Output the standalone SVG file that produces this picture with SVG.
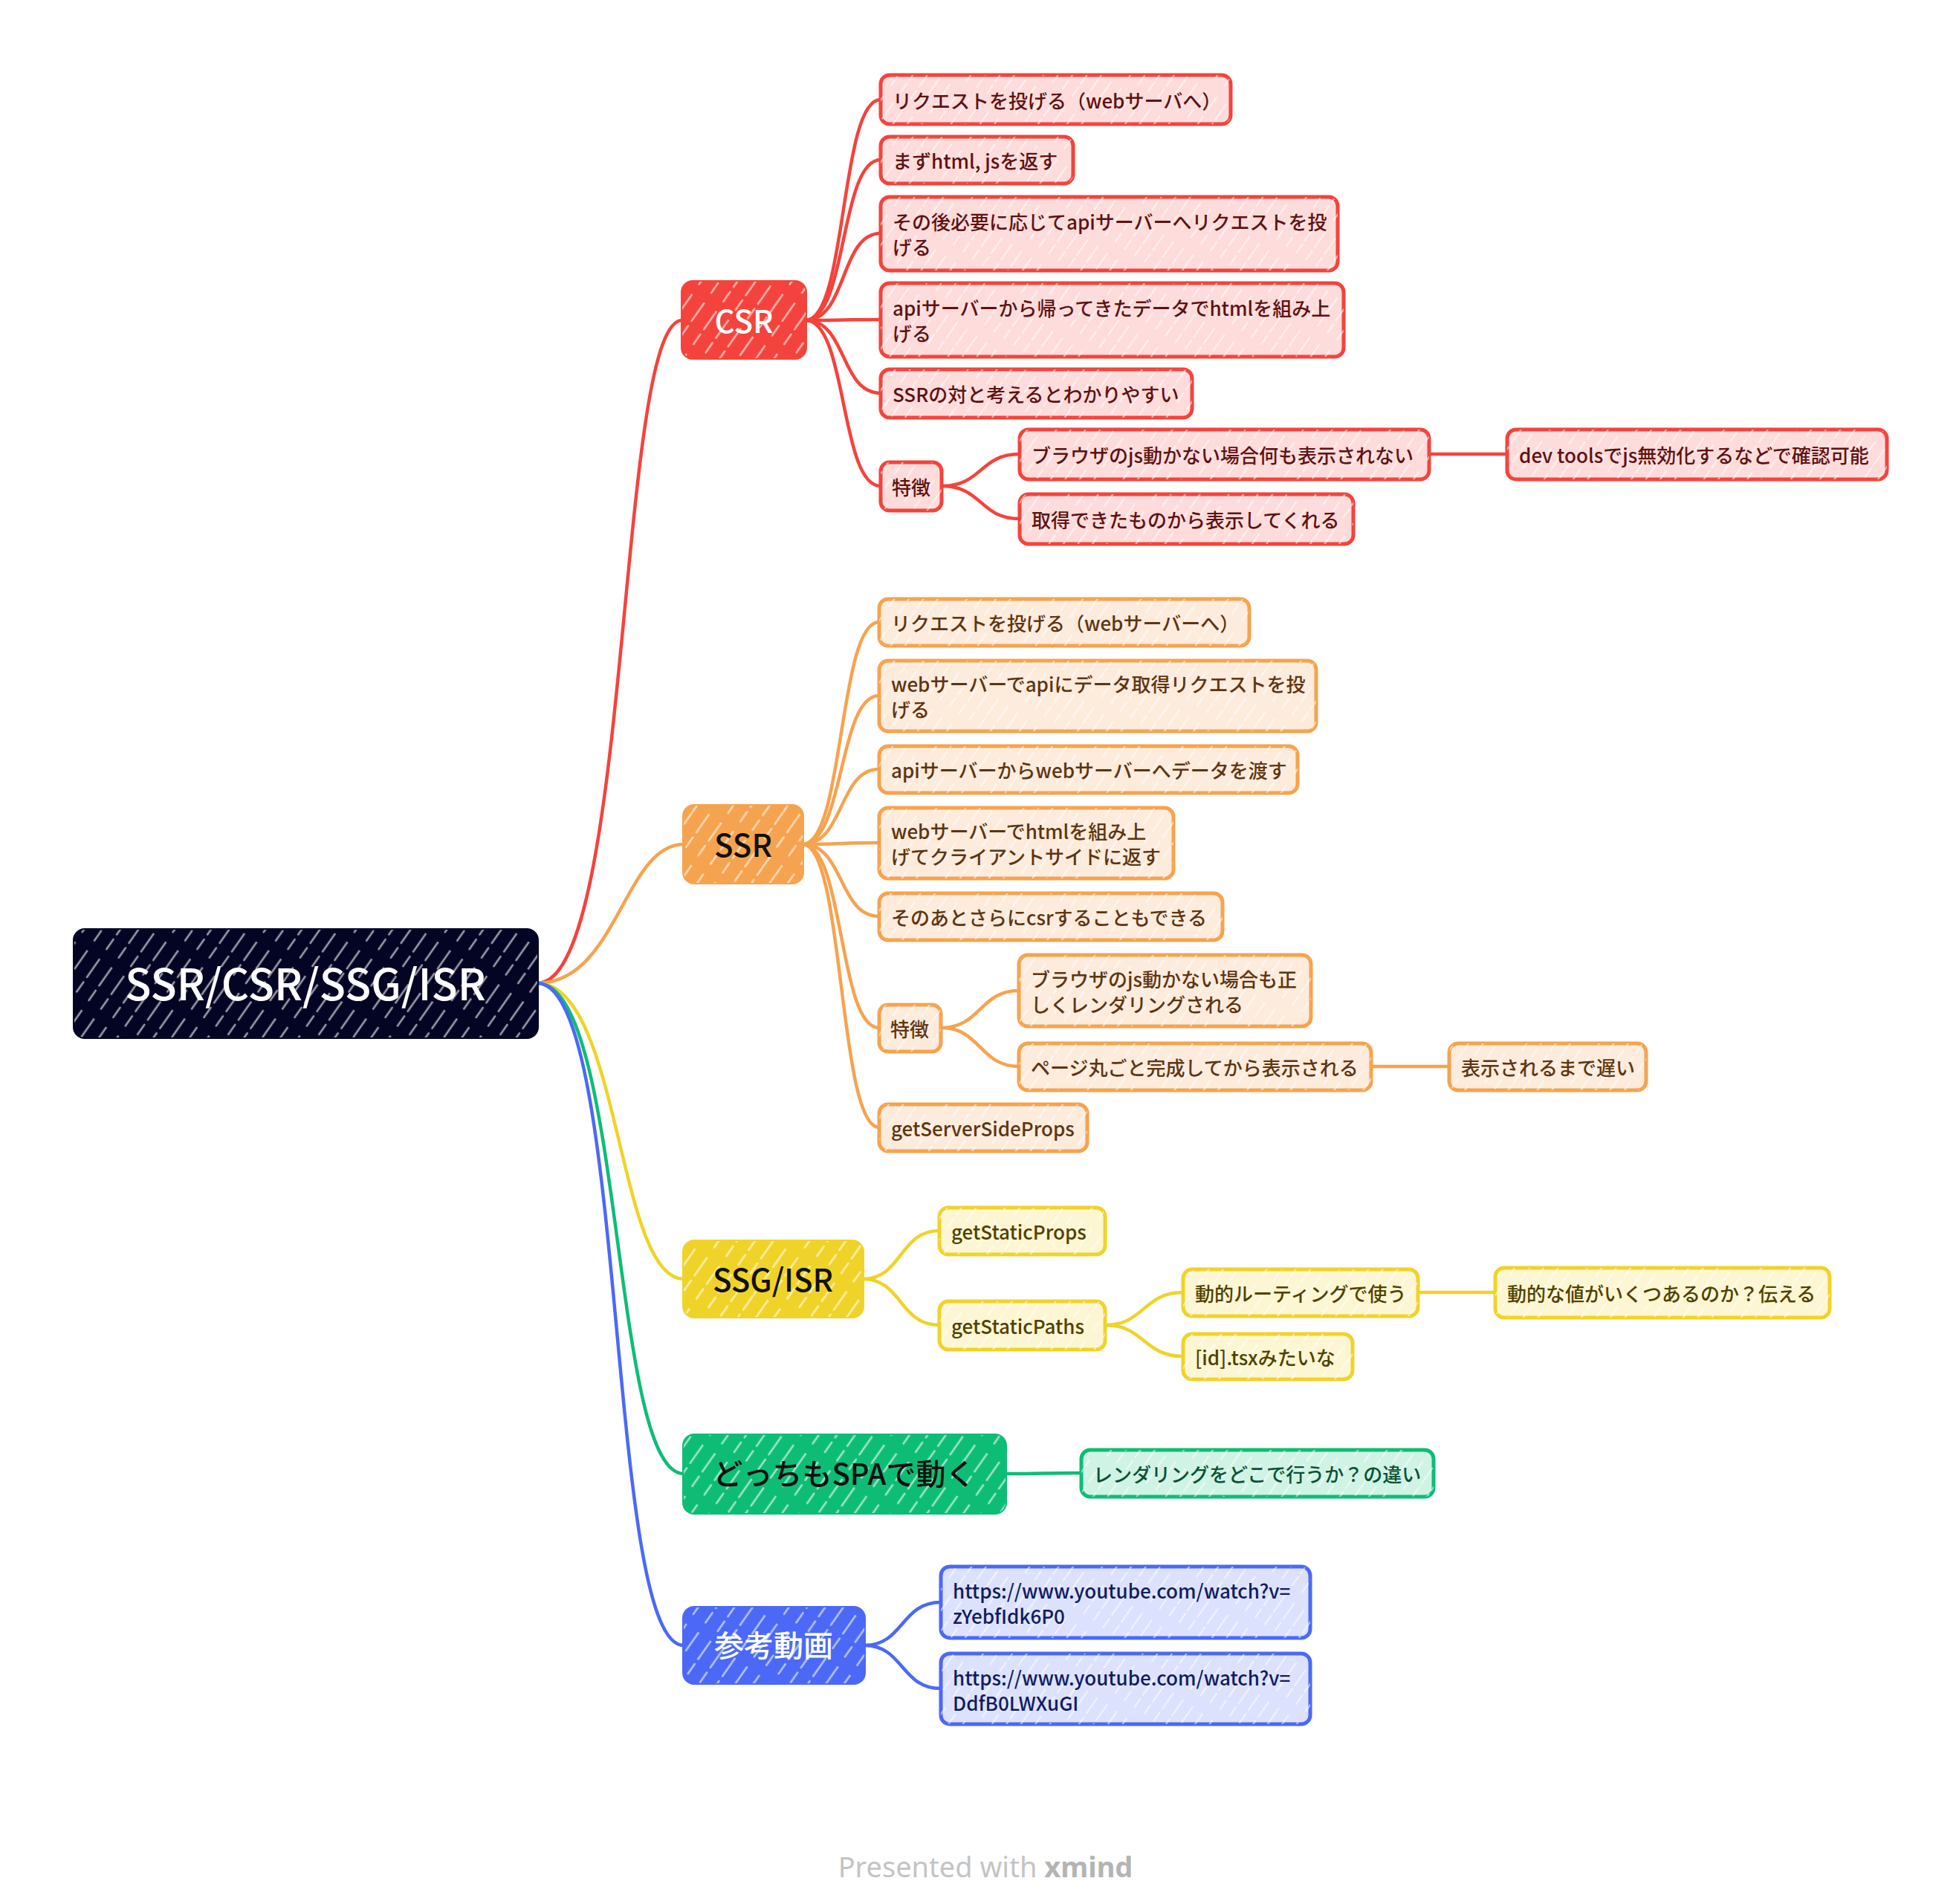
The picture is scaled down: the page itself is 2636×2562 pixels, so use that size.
<svg xmlns="http://www.w3.org/2000/svg" width="2636" height="2562" viewBox="0 0 2636 2562">
<defs>
<pattern id="hatch" width="16" height="64" patternUnits="userSpaceOnUse" patternTransform="rotate(35)">
<line x1="8" y1="0" x2="8" y2="64" stroke="#ffffff" stroke-width="2.2" stroke-dasharray="26 6 14 18" stroke-linecap="round"/>
</pattern>
<pattern id="hatchM" width="20" height="70" patternUnits="userSpaceOnUse" patternTransform="rotate(35)">
<line x1="10" y1="0" x2="10" y2="70" stroke="#ffffff" stroke-width="2.6" stroke-dasharray="30 8 16 16" stroke-linecap="round"/>
</pattern>
<style>
.t{font-family:"Noto Sans CJK JP","Noto Sans",sans-serif;font-size:26px;font-weight:500;dominant-baseline:central}
.m{font-family:"Noto Sans CJK JP","Noto Sans",sans-serif;font-size:42px;font-weight:500;text-anchor:middle;dominant-baseline:central}
.h{fill:url(#hatch);opacity:.55}
.hm{fill:url(#hatchM);opacity:.6}
.box{stroke-width:5}
.mainbox{stroke-width:4}
.red .box{fill:#fedcdb;stroke:#f4433c}.red .t{fill:#5e1212}
.orange .box{fill:#fdebdc;stroke:#f6a34f}.orange .t{fill:#5e3510}
.yellow .box{fill:#fdf6d2;stroke:#f0d329}.yellow .t{fill:#4f4200}
.green .box{fill:#cff3e4;stroke:#0dbd76}.green .t{fill:#0b5035}
.blue .box{fill:#dce2fd;stroke:#4b69f6}.blue .t{fill:#101c63}
.conn path{fill:none;stroke-width:4.5;stroke-linecap:round}
.cr{stroke:#f4433c}.co{stroke:#f6a34f}.cy{stroke:#f0d329}.cg{stroke:#0dbd76}.cb{stroke:#4b69f6}
.foot{font-family:"Noto Sans","Liberation Sans",sans-serif;font-size:38px;fill:#c4c4c4}
</style>
</defs>
<rect width="2636" height="2562" fill="#ffffff"/>

<g id="connectors" class="conn">
<path class="cr" d="M723,1323 C850,1323 830,431 918,431"/>
<path class="co" d="M723,1323 C830,1323 840,1136 920,1136"/>
<path class="cy" d="M723,1323 C835,1323 830,1721 920,1721"/>
<path class="cg" d="M723,1323 C840,1323 822,1983 920,1983"/>
<path class="cb" d="M723,1323 C845,1323 815,2214 920,2214"/>

<path class="cr" d="M1084,431 C1140,431 1130,134 1185,134"/>
<path class="cr" d="M1084,431 C1140,431 1130,215 1185,215"/>
<path class="cr" d="M1084,431 C1140,431 1130,314 1185,314"/>
<path class="cr" d="M1084,431 C1140,431 1130,430 1185,430"/>
<path class="cr" d="M1084,431 C1140,431 1130,529 1185,529"/>
<path class="cr" d="M1084,431 C1140,431 1130,654 1185,654"/>
<path class="cr" d="M1267,654 C1322,654 1318,611 1372,611"/>
<path class="cr" d="M1267,654 C1322,654 1318,698 1372,698"/>
<path class="cr" d="M1923,611 C1975,611 1975,611 2028,611"/>

<path class="co" d="M1080,1136 C1136,1136 1128,837 1183,837"/>
<path class="co" d="M1080,1136 C1136,1136 1128,936 1183,936"/>
<path class="co" d="M1080,1136 C1136,1136 1128,1035 1183,1035"/>
<path class="co" d="M1080,1136 C1136,1136 1128,1134 1183,1134"/>
<path class="co" d="M1080,1136 C1136,1136 1128,1233 1183,1233"/>
<path class="co" d="M1080,1136 C1136,1136 1128,1383 1183,1383"/>
<path class="co" d="M1080,1136 C1136,1136 1128,1517 1183,1517"/>
<path class="co" d="M1266,1383 C1320,1383 1318,1333 1371,1333"/>
<path class="co" d="M1266,1383 C1320,1383 1318,1435 1371,1435"/>
<path class="co" d="M1845,1435 C1898,1435 1898,1435 1950,1435"/>

<path class="cy" d="M1161,1721 C1214,1721 1210,1656 1264,1656"/>
<path class="cy" d="M1161,1721 C1214,1721 1210,1783 1264,1783"/>
<path class="cy" d="M1487,1783 C1540,1783 1538,1739 1592,1739"/>
<path class="cy" d="M1487,1783 C1540,1783 1538,1825 1592,1825"/>
<path class="cy" d="M1908,1739 C1960,1739 1960,1739 2012,1739"/>

<path class="cg" d="M1353,1983 C1404,1983 1404,1982 1455,1982"/>

<path class="cb" d="M1163,2214 C1216,2214 1212,2156 1266,2156"/>
<path class="cb" d="M1163,2214 C1216,2214 1212,2272 1266,2272"/>
</g>

<g id="root">
<rect x="100" y="1251" width="623" height="145" rx="14" fill="#040525" stroke="#040525" class="mainbox"/>
<rect x="100" y="1251" width="623" height="145" rx="14" class="hm"/>
<text x="411" y="1321" class="m" style="font-size:58px" fill="#ffffff">SSR/CSR/SSG/ISR</text>
</g>

<g id="csr">
<rect x="918" y="379" width="166" height="103" rx="14" fill="#f4433c" stroke="#f4433c" class="mainbox"/>
<rect x="918" y="379" width="166" height="103" rx="14" class="hm"/>
<text x="1001" y="429" class="m" fill="#ffffff">CSR</text>
</g>
<g id="csr-1" class="red"><rect class="box" x="1185" y="101" width="471" height="66" rx="12"/><rect class="h" x="1185" y="101" width="471" height="66" rx="12"/><text class="t" x="1201" y="134">リクエストを投げる（webサーバへ）</text></g>
<g id="csr-2" class="red"><rect class="box" x="1185" y="184" width="259" height="63" rx="12"/><rect class="h" x="1185" y="184" width="259" height="63" rx="12"/><text class="t" x="1201" y="215">まずhtml, jsを返す</text></g>
<g id="csr-3" class="red"><rect class="box" x="1185" y="265" width="615" height="99" rx="12"/><rect class="h" x="1185" y="265" width="615" height="99" rx="12"/><text class="t" x="1201" y="297">その後必要に応じてapiサーバーへリクエストを投</text><text class="t" x="1201" y="331">げる</text></g>
<g id="csr-4" class="red"><rect class="box" x="1185" y="381" width="623" height="99" rx="12"/><rect class="h" x="1185" y="381" width="623" height="99" rx="12"/><text class="t" x="1201" y="413">apiサーバーから帰ってきたデータでhtmlを組み上</text><text class="t" x="1201" y="447">げる</text></g>
<g id="csr-5" class="red"><rect class="box" x="1185" y="497" width="419" height="65" rx="12"/><rect class="h" x="1185" y="497" width="419" height="65" rx="12"/><text class="t" x="1201" y="529">SSRの対と考えるとわかりやすい</text></g>
<g id="csr-6" class="red"><rect class="box" x="1185" y="622" width="82" height="65" rx="12"/><rect class="h" x="1185" y="622" width="82" height="65" rx="12"/><text class="t" x="1200" y="654">特徴</text></g>
<g id="csr-6-1" class="red"><rect class="box" x="1372" y="578" width="551" height="67" rx="12"/><rect class="h" x="1372" y="578" width="551" height="67" rx="12"/><text class="t" x="1388" y="611">ブラウザのjs動かない場合何も表示されない</text></g>
<g id="csr-6-1-1" class="red"><rect class="box" x="2028" y="578" width="511" height="67" rx="12"/><rect class="h" x="2028" y="578" width="511" height="67" rx="12"/><text class="t" x="2044" y="611">dev toolsでjs無効化するなどで確認可能</text></g>
<g id="csr-6-2" class="red"><rect class="box" x="1372" y="665" width="449" height="67" rx="12"/><rect class="h" x="1372" y="665" width="449" height="67" rx="12"/><text class="t" x="1388" y="698">取得できたものから表示してくれる</text></g>

<g id="ssr">
<rect x="920" y="1084" width="160" height="104" rx="14" fill="#f6a34f" stroke="#f6a34f" class="mainbox"/>
<rect x="920" y="1084" width="160" height="104" rx="14" class="hm"/>
<text x="1000" y="1134" class="m" fill="#111111">SSR</text>
</g>
<g id="ssr-1" class="orange"><rect class="box" x="1183" y="806" width="498" height="63" rx="12"/><rect class="h" x="1183" y="806" width="498" height="63" rx="12"/><text class="t" x="1199" y="837">リクエストを投げる（webサーバーへ）</text></g>
<g id="ssr-2" class="orange"><rect class="box" x="1183" y="889" width="588" height="95" rx="12"/><rect class="h" x="1183" y="889" width="588" height="95" rx="12"/><text class="t" x="1199" y="919">webサーバーでapiにデータ取得リクエストを投</text><text class="t" x="1199" y="953">げる</text></g>
<g id="ssr-3" class="orange"><rect class="box" x="1183" y="1004" width="563" height="63" rx="12"/><rect class="h" x="1183" y="1004" width="563" height="63" rx="12"/><text class="t" x="1199" y="1035">apiサーバーからwebサーバーへデータを渡す</text></g>
<g id="ssr-4" class="orange"><rect class="box" x="1183" y="1087" width="396" height="95" rx="12"/><rect class="h" x="1183" y="1087" width="396" height="95" rx="12"/><text class="t" x="1199" y="1117">webサーバーでhtmlを組み上</text><text class="t" x="1199" y="1151">げてクライアントサイドに返す</text></g>
<g id="ssr-5" class="orange"><rect class="box" x="1183" y="1202" width="462" height="63" rx="12"/><rect class="h" x="1183" y="1202" width="462" height="63" rx="12"/><text class="t" x="1199" y="1233">そのあとさらにcsrすることもできる</text></g>
<g id="ssr-6" class="orange"><rect class="box" x="1183" y="1352" width="83" height="63" rx="12"/><rect class="h" x="1183" y="1352" width="83" height="63" rx="12"/><text class="t" x="1198" y="1383">特徴</text></g>
<g id="ssr-6-1" class="orange"><rect class="box" x="1371" y="1285" width="393" height="96" rx="12"/><rect class="h" x="1371" y="1285" width="393" height="96" rx="12"/><text class="t" x="1387" y="1316">ブラウザのjs動かない場合も正</text><text class="t" x="1387" y="1350">しくレンダリングされる</text></g>
<g id="ssr-6-2" class="orange"><rect class="box" x="1371" y="1404" width="474" height="63" rx="12"/><rect class="h" x="1371" y="1404" width="474" height="63" rx="12"/><text class="t" x="1387" y="1435">ページ丸ごと完成してから表示される</text></g>
<g id="ssr-6-2-1" class="orange"><rect class="box" x="1950" y="1404" width="265" height="63" rx="12"/><rect class="h" x="1950" y="1404" width="265" height="63" rx="12"/><text class="t" x="1966" y="1435">表示されるまで遅い</text></g>
<g id="ssr-7" class="orange"><rect class="box" x="1183" y="1486" width="280" height="63" rx="12"/><rect class="h" x="1183" y="1486" width="280" height="63" rx="12"/><text class="t" x="1199" y="1517">getServerSideProps</text></g>

<g id="ssg">
<rect x="920" y="1670" width="241" height="102" rx="14" fill="#f0d329" stroke="#f0d329" class="mainbox"/>
<rect x="920" y="1670" width="241" height="102" rx="14" class="hm"/>
<text x="1040" y="1719" class="m" fill="#111111">SSG/ISR</text>
</g>
<g id="ssg-1" class="yellow"><rect class="box" x="1264" y="1625" width="223" height="63" rx="12"/><rect class="h" x="1264" y="1625" width="223" height="63" rx="12"/><text class="t" x="1280" y="1656">getStaticProps</text></g>
<g id="ssg-2" class="yellow"><rect class="box" x="1264" y="1751" width="223" height="65" rx="12"/><rect class="h" x="1264" y="1751" width="223" height="65" rx="12"/><text class="t" x="1280" y="1783">getStaticPaths</text></g>
<g id="ssg-2-1" class="yellow"><rect class="box" x="1592" y="1708" width="316" height="63" rx="12"/><rect class="h" x="1592" y="1708" width="316" height="63" rx="12"/><text class="t" x="1608" y="1739">動的ルーティングで使う</text></g>
<g id="ssg-2-1-1" class="yellow"><rect class="box" x="2012" y="1706" width="450" height="67" rx="12"/><rect class="h" x="2012" y="1706" width="450" height="67" rx="12"/><text class="t" x="2028" y="1739">動的な値がいくつあるのか？伝える</text></g>
<g id="ssg-2-2" class="yellow"><rect class="box" x="1592" y="1795" width="228" height="61" rx="12"/><rect class="h" x="1592" y="1795" width="228" height="61" rx="12"/><text class="t" x="1608" y="1825">[id].tsxみたいな</text></g>

<g id="spa">
<rect x="920" y="1931" width="433" height="105" rx="14" fill="#0dbd76" stroke="#0dbd76" class="mainbox"/>
<rect x="920" y="1931" width="433" height="105" rx="14" class="hm"/>
<text x="1136" y="1981" class="m" style="font-size:40px" fill="#111111">どっちもSPAで動く</text>
</g>
<g id="spa-1" class="green"><rect class="box" x="1455" y="1951" width="474" height="63" rx="12"/><rect class="h" x="1455" y="1951" width="474" height="63" rx="12"/><text class="t" x="1471" y="1982">レンダリングをどこで行うか？の違い</text></g>

<g id="ref">
<rect x="920" y="2163" width="243" height="102" rx="14" fill="#4b69f6" stroke="#4b69f6" class="mainbox"/>
<rect x="920" y="2163" width="243" height="102" rx="14" class="hm"/>
<text x="1041" y="2212" class="m" style="font-size:40px" fill="#ffffff">参考動画</text>
</g>
<g id="ref-1" class="blue"><rect class="box" x="1266" y="2108" width="497" height="96" rx="12"/><rect class="h" x="1266" y="2108" width="497" height="96" rx="12"/><text class="t" x="1282" y="2139">https://www.youtube.com/watch?v=</text><text class="t" x="1282" y="2173">zYebfIdk6P0</text></g>
<g id="ref-2" class="blue"><rect class="box" x="1266" y="2225" width="497" height="95" rx="12"/><rect class="h" x="1266" y="2225" width="497" height="95" rx="12"/><text class="t" x="1282" y="2256">https://www.youtube.com/watch?v=</text><text class="t" x="1282" y="2290">DdfB0LWXuGI</text></g>

<text x="1326" y="2526" class="foot" text-anchor="middle">Presented with <tspan font-weight="700" fill="#b4b4b4">xmind</tspan></text>
</svg>
